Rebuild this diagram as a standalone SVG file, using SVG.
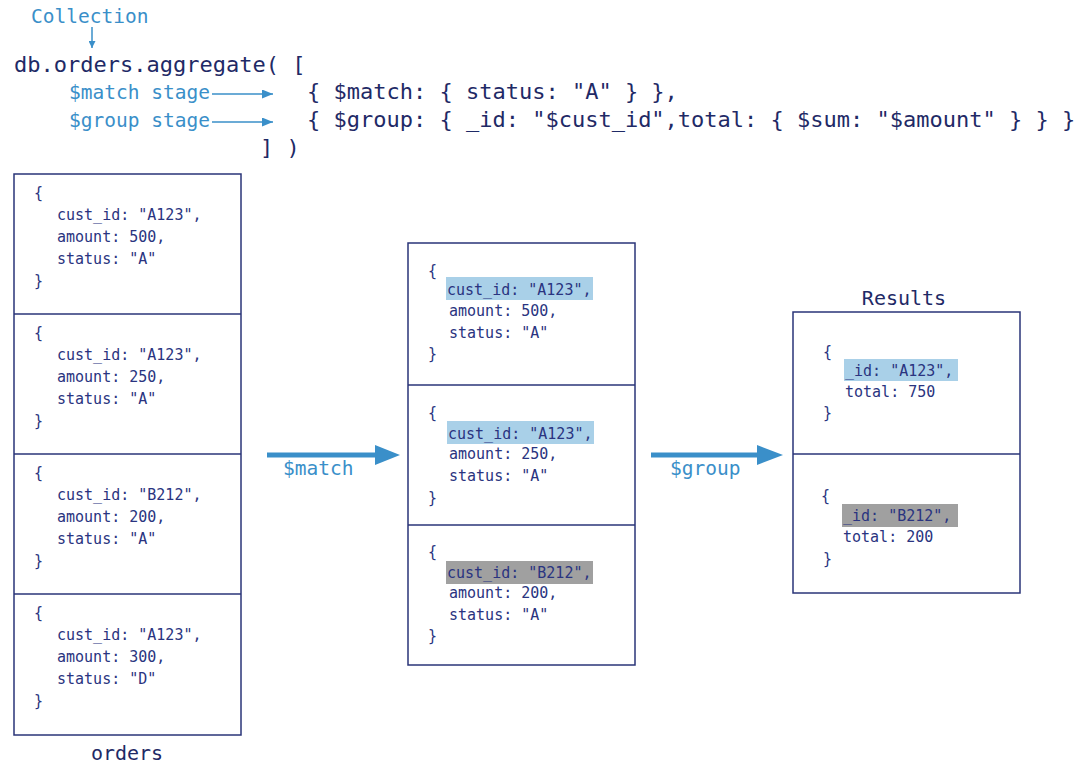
<svg xmlns="http://www.w3.org/2000/svg" width="1080" height="777" viewBox="0 0 1080 777">
<defs>
<style>
text{font-family:"DejaVu Sans Mono","Liberation Mono",monospace;}
.code{font-size:22px;fill:#1f2a66;}
.lbl{font-size:19.5px;fill:#3a8fc9;}
.doc{font-size:15px;fill:#2a3480;}
.title{font-size:20px;fill:#1f2a66;}
.box{fill:#fff;stroke:#2a3478;stroke-width:1.5;}
.div{stroke:#2a3478;stroke-width:1.5;}
.hlb{fill:#a9d0e8;}
.hlg{fill:#a0a0a0;}
.thin{stroke:#3a8fc9;stroke-width:1.5;fill:none;}
.thick{stroke:#3a8fc9;stroke-width:5;fill:none;}
</style>
<marker id="ah" viewBox="0 0 10 10" refX="10" refY="5" markerWidth="7" markerHeight="7" markerUnits="userSpaceOnUse" orient="auto"><path d="M0,0 L10,5 L0,10 z" fill="#3a8fc9"/></marker>
<marker id="ahs" viewBox="0 0 10 10" refX="10" refY="5" markerWidth="11" markerHeight="9" markerUnits="userSpaceOnUse" orient="auto" preserveAspectRatio="none"><path d="M0,0 L10,5 L0,10 z" fill="#3a8fc9"/></marker>
</defs>
<rect width="1080" height="777" fill="#fff"/>

<g id="query">
<text class="lbl" x="31" y="23">Collection</text>
<text class="code" x="14" y="72">db.orders.aggregate( [</text>
<text class="lbl" x="69" y="99">$match stage</text>
<text class="lbl" x="69" y="127">$group stage</text>
<text class="code" x="307" y="99">{ $match: { status: "A" } },</text>
<text class="code" x="307" y="127">{ $group: { _id: "$cust_id",total: { $sum: "$amount" } } }</text>
<text class="code" x="260" y="155">] )</text>
</g>

<g id="connectors">
<line class="thin" x1="92" y1="27" x2="92" y2="48" marker-end="url(#ah)"/>
<line class="thin" x1="212" y1="94" x2="273" y2="94" marker-end="url(#ahs)"/>
<line class="thin" x1="212" y1="122" x2="273" y2="122" marker-end="url(#ahs)"/>
<line class="thick" x1="267" y1="455" x2="378" y2="455"/>
<path d="M375,445 L400,455 L375,465 z" fill="#3a8fc9"/>
<line class="thick" x1="651" y1="455" x2="760" y2="455"/>
<path d="M757,445 L783,455 L757,465 z" fill="#3a8fc9"/>
<text class="lbl" x="283" y="475">$match</text>
<text class="lbl" x="670" y="475">$group</text>
</g>

<g id="orders">
<rect class="box" x="14" y="174" width="227" height="561"/>
<line class="div" x1="14" y1="314" x2="241" y2="314"/>
<line class="div" x1="14" y1="454" x2="241" y2="454"/>
<line class="div" x1="14" y1="594" x2="241" y2="594"/>
<g class="doc-text">
<text class="doc" x="34" y="198">{</text>
<text class="doc" x="57" y="220">cust_id: "A123",</text>
<text class="doc" x="57" y="242">amount: 500,</text>
<text class="doc" x="57" y="264">status: "A"</text>
<text class="doc" x="34" y="286">}</text>

<text class="doc" x="34" y="338">{</text>
<text class="doc" x="57" y="360">cust_id: "A123",</text>
<text class="doc" x="57" y="382">amount: 250,</text>
<text class="doc" x="57" y="404">status: "A"</text>
<text class="doc" x="34" y="426">}</text>

<text class="doc" x="34" y="478">{</text>
<text class="doc" x="57" y="500">cust_id: "B212",</text>
<text class="doc" x="57" y="522">amount: 200,</text>
<text class="doc" x="57" y="544">status: "A"</text>
<text class="doc" x="34" y="566">}</text>

<text class="doc" x="34" y="618">{</text>
<text class="doc" x="57" y="640">cust_id: "A123",</text>
<text class="doc" x="57" y="662">amount: 300,</text>
<text class="doc" x="57" y="684">status: "D"</text>
<text class="doc" x="34" y="706">}</text>
</g>
<text class="title" x="127" y="760" text-anchor="middle">orders</text>
</g>

<g id="matched">
<rect class="box" x="408" y="243" width="227" height="422"/>
<line class="div" x1="408" y1="385" x2="635" y2="385"/>
<line class="div" x1="408" y1="525" x2="635" y2="525"/>
<rect class="hlb" x="446" y="277" width="147" height="23"/>
<rect class="hlb" x="447" y="421" width="147" height="23"/>
<rect class="hlg" x="446" y="561" width="147" height="23"/>
<text class="doc" x="428" y="276">{</text>
<text class="doc" x="447" y="295">cust_id: "A123",</text>
<text class="doc" x="449" y="316">amount: 500,</text>
<text class="doc" x="449" y="338">status: "A"</text>
<text class="doc" x="428" y="359">}</text>

<text class="doc" x="428" y="418">{</text>
<text class="doc" x="448" y="439">cust_id: "A123",</text>
<text class="doc" x="449" y="459">amount: 250,</text>
<text class="doc" x="449" y="481">status: "A"</text>
<text class="doc" x="428" y="503">}</text>

<text class="doc" x="428" y="557">{</text>
<text class="doc" x="447" y="578">cust_id: "B212",</text>
<text class="doc" x="449" y="598">amount: 200,</text>
<text class="doc" x="449" y="620">status: "A"</text>
<text class="doc" x="428" y="641">}</text>
</g>

<g id="results">
<text class="title" x="904" y="305" text-anchor="middle">Results</text>
<rect class="box" x="793" y="312" width="227" height="281"/>
<line class="div" x1="793" y1="454" x2="1020" y2="454"/>
<rect class="hlb" x="844" y="359" width="114" height="22"/>
<rect class="hlg" x="842" y="504" width="116" height="23"/>
<text class="doc" x="823" y="357">{</text>
<text class="doc" x="845" y="376">_id: "A123",</text>
<text class="doc" x="845" y="397">total: 750</text>
<text class="doc" x="823" y="418">}</text>

<text class="doc" x="821" y="501">{</text>
<text class="doc" x="843" y="521">_id: "B212",</text>
<text class="doc" x="843" y="542">total: 200</text>
<text class="doc" x="823" y="564">}</text>
</g>
</svg>
